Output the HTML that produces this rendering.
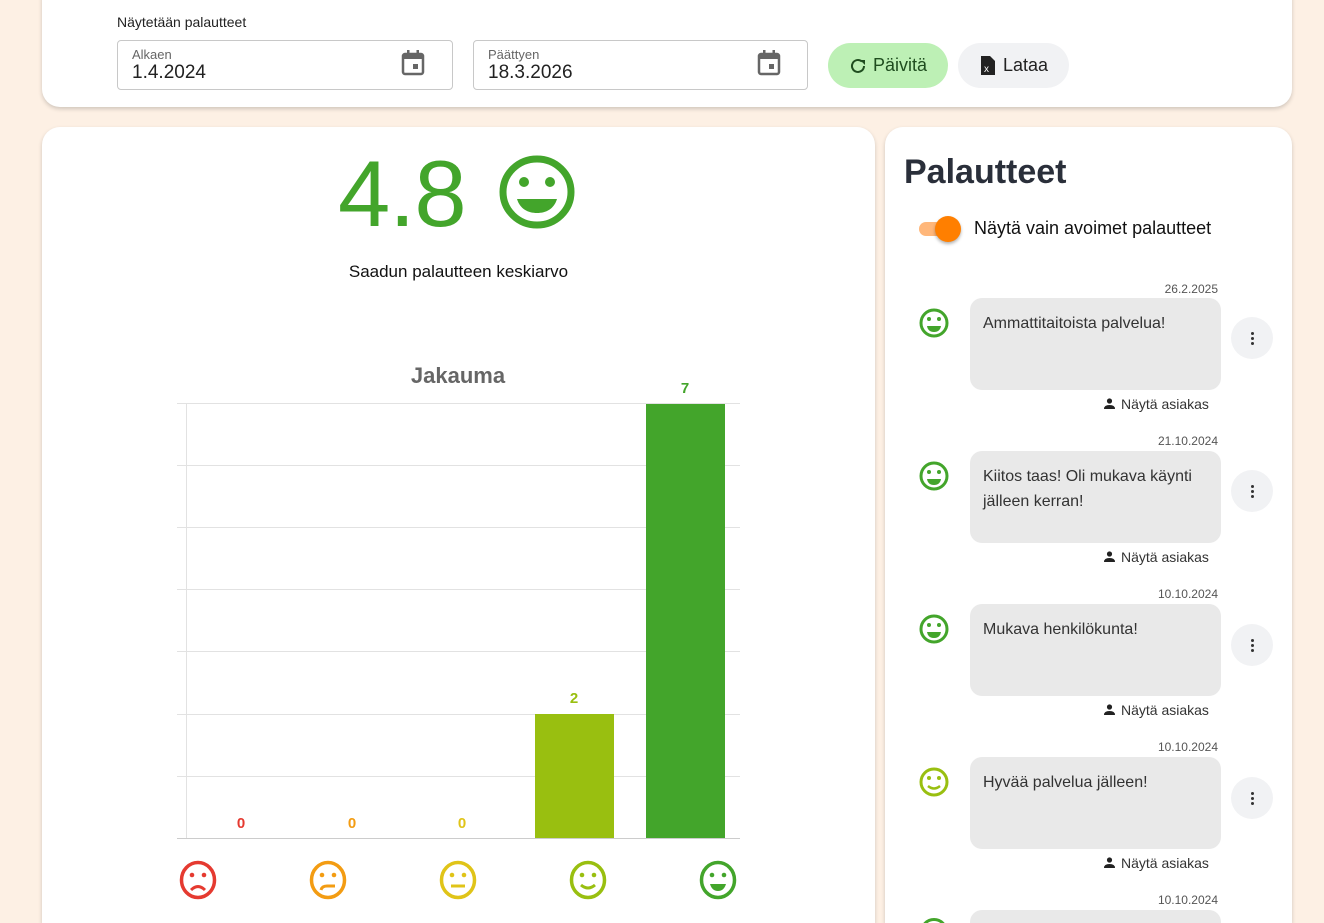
<!DOCTYPE html>
<html><head><meta charset="utf-8">
<style>
*{box-sizing:border-box;margin:0;padding:0}
html{width:1324px;height:923px;overflow:hidden}
body{width:1324px;height:923px;background:#fdf0e4;font-family:"Liberation Sans",sans-serif;position:relative;overflow:hidden;color:#222}
.a{position:absolute}
.card{position:absolute;background:#fff;border-radius:18px;box-shadow:0 2px 4px rgba(0,0,0,.18)}
.field{position:absolute;border:1px solid #c8c8c8;border-radius:4px;background:#fff}
.field .l{position:absolute;left:14px;top:6px;font-size:13px;color:#666}
.field .v{position:absolute;left:14px;top:21px;font-size:19px;color:#222}
.date{position:absolute;right:106px;font-size:12px;color:#555}
.bub{position:absolute;left:970px;width:251px;height:92px;background:#e9e9e9;border-radius:12px;padding:13px 13px;font-size:16px;line-height:25px;color:#333}
.more{position:absolute;left:1231px;width:42px;height:42px;border-radius:50%;background:#f1f2f4}
.more i{position:absolute;left:20px;width:3px;height:3px;background:#333;border-radius:50%}
.na{position:absolute;left:1104px;font-size:14px;color:#333;padding-left:17px}
.na svg{position:absolute;left:0;top:2px}
</style></head><body>
<div class="card" style="left:42px;top:-20px;width:1250px;height:127px"></div>
<div class="a" style="left:117px;top:14px;font-size:14px">Näytetään palautteet</div>
<div class="field" style="left:117px;top:40px;width:336px;height:50px"><div class="l">Alkaen</div><div class="v">1.4.2024</div>
<svg class="a" style="left:282px;top:8px" width="26" height="28" viewBox="0 0 26 28"><rect x="3" y="5" width="20" height="20" rx="2" fill="none" stroke="#666" stroke-width="2.5"/><rect x="3" y="5" width="20" height="5" fill="#666"/><rect x="7" y="1" width="2.5" height="6" fill="#666"/><rect x="16.5" y="1" width="2.5" height="6" fill="#666"/><rect x="13" y="15" width="5" height="5" fill="#666"/></svg></div>
<div class="field" style="left:473px;top:40px;width:335px;height:50px"><div class="l">Päättyen</div><div class="v">18.3.2026</div>
<svg class="a" style="left:282px;top:8px" width="26" height="28" viewBox="0 0 26 28"><rect x="3" y="5" width="20" height="20" rx="2" fill="none" stroke="#666" stroke-width="2.5"/><rect x="3" y="5" width="20" height="5" fill="#666"/><rect x="7" y="1" width="2.5" height="6" fill="#666"/><rect x="16.5" y="1" width="2.5" height="6" fill="#666"/><rect x="13" y="15" width="5" height="5" fill="#666"/></svg></div>
<div class="a" style="left:828px;top:43px;width:120px;height:45px;border-radius:23px;background:#bdf0b5;font-size:18px;line-height:45px;color:#1f4d1f;padding-left:45px">Päivitä
<svg class="a" style="left:21px;top:14px" width="18" height="18" viewBox="0 0 18 18"><path d="M15 9a6 6 0 1 1-2-4.5" fill="none" stroke="#1f4d1f" stroke-width="2"/><path d="M11 3l5 0 0 5z" fill="#1f4d1f"/></svg></div>
<div class="a" style="left:958px;top:43px;width:111px;height:45px;border-radius:23px;background:#f1f2f4;font-size:18px;line-height:45px;color:#222;padding-left:45px">Lataa
<svg class="a" style="left:23px;top:13px" width="14" height="19" viewBox="0 0 14 19"><path d="M0 0h9l5 5v14H0z" fill="#222"/><text x="3" y="16" font-size="10" fill="#fff" font-family="Liberation Sans">x</text></svg></div>

<div class="card" style="left:42px;top:127px;width:833px;height:796px;border-bottom-left-radius:0;border-bottom-right-radius:0"></div>
<div class="a" style="left:338px;top:140px;font-size:94px;color:#43a52b;letter-spacing:-1px">4.8</div>
<svg class="a" style="left:497px;top:154px" width="80" height="76" viewBox="0 0 80 76"><ellipse cx="40" cy="38" rx="34" ry="33" fill="none" stroke="#43a52b" stroke-width="7"/><circle cx="27" cy="28" r="5" fill="#43a52b"/><circle cx="53" cy="28" r="5" fill="#43a52b"/><path d="M20 45h40c-3 10-11 14-20 14s-17-4-20-14z" fill="#43a52b"/></svg>
<div class="a" style="left:0;width:917px;top:262px;text-align:center;font-size:17px;color:#111">Saadun palautteen keskiarvo</div>

<svg class="a" style="left:0;top:0" width="880" height="923">
<text x="458" y="383" text-anchor="middle" font-size="22" font-weight="bold" fill="#666" font-family="Liberation Sans">Jakauma</text>
<g stroke="#e2e2e2" stroke-width="1">
<line x1="177" y1="403.5" x2="740" y2="403.5"/><line x1="177" y1="465.5" x2="740" y2="465.5"/><line x1="177" y1="527.5" x2="740" y2="527.5"/><line x1="177" y1="589.5" x2="740" y2="589.5"/><line x1="177" y1="651.5" x2="740" y2="651.5"/><line x1="177" y1="714.5" x2="740" y2="714.5"/><line x1="177" y1="776.5" x2="740" y2="776.5"/>
<line x1="186.5" y1="403" x2="186.5" y2="838"/></g>
<line x1="177" y1="838.5" x2="740" y2="838.5" stroke="#ccc"/>
<rect x="535" y="714" width="79" height="124" fill="#99bf10"/>
<rect x="646" y="404" width="79" height="434" fill="#43a52b"/>
<g font-size="15" font-weight="bold" text-anchor="middle" font-family="Liberation Sans">
<text x="241" y="828" fill="#e53a30">0</text><text x="352" y="828" fill="#f39c12">0</text><text x="462" y="828" fill="#e0c418">0</text>
<text x="574" y="703" fill="#99bf10">2</text><text x="685" y="393" fill="#43a52b">7</text></g>
<g fill="none" stroke-width="3.5">
<ellipse cx="198" cy="880" rx="16.5" ry="17.5" stroke="#e53a30"/><ellipse cx="328" cy="880" rx="16.5" ry="17.5" stroke="#f39c12"/><ellipse cx="458" cy="880" rx="16.5" ry="17.5" stroke="#e0c418"/><ellipse cx="588" cy="880" rx="16.5" ry="17.5" stroke="#99bf10"/><ellipse cx="718" cy="880" rx="16.5" ry="17.5" stroke="#43a52b"/>
<path d="M191 890q7-7 14 0" stroke="#e53a30" stroke-width="3"/>
<path d="M321 890q1-4 6-4h8" stroke="#f39c12" stroke-width="3"/>
<path d="M451 886h14" stroke="#e0c418" stroke-width="3"/>
<path d="M581 885q7 6 14 0" stroke="#99bf10" stroke-width="3"/></g>
<path d="M710 884h16q-2 7-8 7t-8-7z" fill="#43a52b"/>
<g><circle cx="192" cy="875" r="2.3" fill="#e53a30"/><circle cx="204" cy="875" r="2.3" fill="#e53a30"/>
<circle cx="322" cy="875" r="2.3" fill="#f39c12"/><circle cx="334" cy="875" r="2.3" fill="#f39c12"/>
<circle cx="452" cy="875" r="2.3" fill="#e0c418"/><circle cx="464" cy="875" r="2.3" fill="#e0c418"/>
<circle cx="582" cy="875" r="2.3" fill="#99bf10"/><circle cx="594" cy="875" r="2.3" fill="#99bf10"/>
<circle cx="712" cy="875" r="2.3" fill="#43a52b"/><circle cx="724" cy="875" r="2.3" fill="#43a52b"/></g>
</svg>

<div class="card" style="left:885px;top:127px;width:407px;height:796px;border-bottom-left-radius:0;border-bottom-right-radius:0"></div>
<div class="a" style="left:904px;top:153px;font-size:34px;font-weight:bold;color:#2a2f3a">Palautteet</div>
<div class="a" style="left:919px;top:222px;width:34px;height:14px;border-radius:7px;background:#ffb77a"></div>
<div class="a" style="left:935px;top:216px;width:26px;height:26px;border-radius:50%;background:#ff7f00;box-shadow:0 2px 3px rgba(0,0,0,.3)"></div>
<div class="a" style="left:974px;top:218px;font-size:18px;color:#111">Näytä vain avoimet palautteet</div>

<svg class="a" style="left:0;top:0;pointer-events:none" width="1324" height="923">
<g fill="none" stroke="#43a52b" stroke-width="3"><circle cx="934" cy="323" r="13"/><circle cx="934" cy="476" r="13"/><circle cx="934" cy="629" r="13"/></g>
<g fill="#43a52b"><circle cx="929" cy="319" r="2"/><circle cx="939" cy="319" r="2"/><path d="M927 326h14q-1 6-7 6t-7-6z"/>
<circle cx="929" cy="472" r="2"/><circle cx="939" cy="472" r="2"/><path d="M927 479h14q-1 6-7 6t-7-6z"/>
<circle cx="929" cy="625" r="2"/><circle cx="939" cy="625" r="2"/><path d="M927 632h14q-1 6-7 6t-7-6z"/></g>
<circle cx="934" cy="782" r="13" fill="none" stroke="#99bf10" stroke-width="3"/>
<circle cx="929" cy="778" r="2" fill="#99bf10"/><circle cx="939" cy="778" r="2" fill="#99bf10"/>
<path d="M928 786q6 5 12 0" fill="none" stroke="#99bf10" stroke-width="2.5"/>
</svg>

<div class="date" style="top:282px">26.2.2025</div>
<div class="bub" style="top:298px">Ammattitaitoista palvelua!</div>
<div class="more" style="top:317px"><i style="top:15px"></i><i style="top:20px"></i><i style="top:25px"></i></div>
<div class="na" style="top:396px"><svg width="11" height="11" viewBox="0 0 11 11"><circle cx="5.5" cy="3" r="2.6" fill="#222"/><path d="M0 11q0-4 5.5-4t5.5 4z" fill="#222"/></svg>Näytä asiakas</div>

<div class="date" style="top:434px">21.10.2024</div>
<div class="bub" style="top:451px">Kiitos taas! Oli mukava käynti jälleen kerran!</div>
<div class="more" style="top:470px"><i style="top:15px"></i><i style="top:20px"></i><i style="top:25px"></i></div>
<div class="na" style="top:549px"><svg width="11" height="11" viewBox="0 0 11 11"><circle cx="5.5" cy="3" r="2.6" fill="#222"/><path d="M0 11q0-4 5.5-4t5.5 4z" fill="#222"/></svg>Näytä asiakas</div>

<div class="date" style="top:587px">10.10.2024</div>
<div class="bub" style="top:604px">Mukava henkilökunta!</div>
<div class="more" style="top:624px"><i style="top:15px"></i><i style="top:20px"></i><i style="top:25px"></i></div>
<div class="na" style="top:702px"><svg width="11" height="11" viewBox="0 0 11 11"><circle cx="5.5" cy="3" r="2.6" fill="#222"/><path d="M0 11q0-4 5.5-4t5.5 4z" fill="#222"/></svg>Näytä asiakas</div>

<div class="date" style="top:740px">10.10.2024</div>
<div class="bub" style="top:757px">Hyvää palvelua jälleen!</div>
<div class="more" style="top:777px"><i style="top:15px"></i><i style="top:20px"></i><i style="top:25px"></i></div>
<div class="na" style="top:855px"><svg width="11" height="11" viewBox="0 0 11 11"><circle cx="5.5" cy="3" r="2.6" fill="#222"/><path d="M0 11q0-4 5.5-4t5.5 4z" fill="#222"/></svg>Näytä asiakas</div>

<div class="date" style="top:893px">10.10.2024</div>
<div class="bub" style="top:910px;height:13px;border-bottom-left-radius:0;border-bottom-right-radius:0"></div>
<div class="a" style="left:920px;top:918px;width:28px;height:5px;overflow:hidden"><div style="width:28px;height:28px;border-radius:50%;border:3px solid #43a52b"></div></div>
</body></html>
